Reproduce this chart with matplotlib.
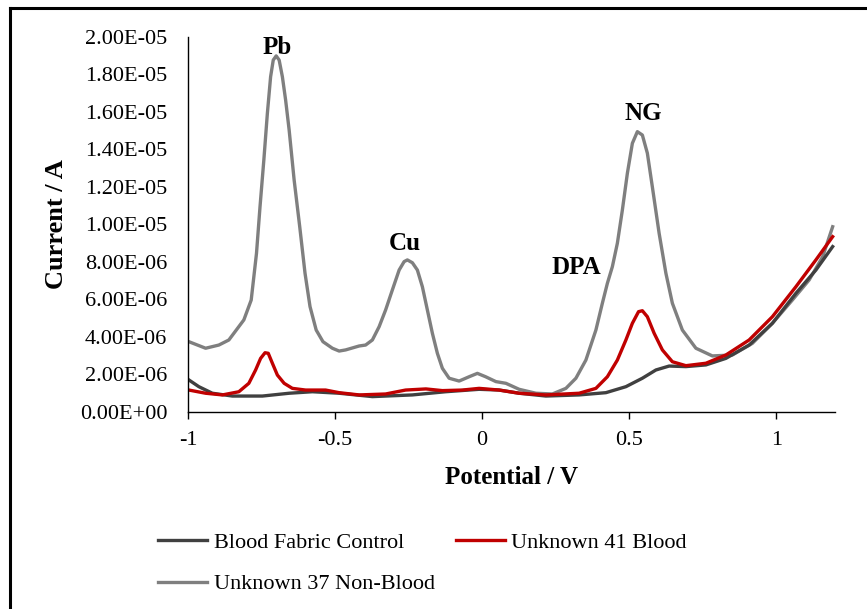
import matplotlib
matplotlib.use("Agg")
import matplotlib.pyplot as plt
from matplotlib.lines import Line2D

plt.rcParams['font.family'] = ['Liberation Serif', 'DejaVu Serif']

# Blood Fabric Control (potential in V, current in uA)
control_v = [-0.997, -0.963, -0.917, -0.849, -0.747, -0.656, -0.577, -0.486, -0.373, -0.237,
             -0.124, -0.01, 0.058, 0.126, 0.217, 0.330, 0.421, 0.489, 0.545, 0.591, 0.636,
             0.693, 0.761, 0.829, 0.908, 0.987, 1.067, 1.135, 1.192]
control_ua = [1.71, 1.35, 1.0, 0.85, 0.85, 1.0, 1.08, 1.0, 0.82, 0.91,
              1.08, 1.21, 1.17, 1.0, 0.85, 0.91, 1.03, 1.35, 1.80, 2.24, 2.45,
              2.42, 2.51, 2.86, 3.57, 4.73, 6.33, 7.57, 8.82]

# Unknown 41 Blood
blood_v = [-0.997, -0.94, -0.883, -0.827, -0.793, -0.770, -0.753, -0.738, -0.727, -0.713,
           -0.696, -0.673, -0.645, -0.60, -0.532, -0.486, -0.418, -0.328, -0.260, -0.191,
           -0.135, -0.067, -0.01, 0.058, 0.126, 0.217, 0.330, 0.387, 0.426, 0.460, 0.489,
           0.511, 0.532, 0.545, 0.562, 0.585, 0.613, 0.647, 0.693, 0.761, 0.829, 0.908,
           0.987, 1.067, 1.135, 1.192]
blood_ua = [1.17, 1.0, 0.91, 1.08, 1.53, 2.24, 2.86, 3.16, 3.13, 2.60,
            1.97, 1.53, 1.26, 1.17, 1.17, 1.03, 0.91, 0.96, 1.17, 1.23,
            1.14, 1.17, 1.26, 1.17, 1.0, 0.91, 1.0, 1.26, 1.88, 2.77, 3.84,
            4.73, 5.35, 5.40, 5.08, 4.20, 3.31, 2.68, 2.47, 2.60, 3.04, 3.84,
            5.08, 6.68, 8.11, 9.35]

# Unknown 37 Non-Blood
nonblood_v = [-0.997, -0.94, -0.895, -0.861, -0.81, -0.785, -0.767, -0.755, -0.742, -0.730,
              -0.719, -0.710, -0.700, -0.690, -0.679, -0.668, -0.656, -0.639, -0.620, -0.602,
              -0.585, -0.564, -0.541, -0.509, -0.486, -0.464, -0.418, -0.396, -0.373, -0.350,
              -0.328, -0.305, -0.282, -0.265, -0.254, -0.237, -0.220, -0.203, -0.186, -0.169,
              -0.152, -0.135, -0.112, -0.078, -0.044, -0.016, 0.012, 0.047, 0.081, 0.126,
              0.183, 0.239, 0.285, 0.319, 0.353, 0.387, 0.409, 0.426, 0.443, 0.460, 0.477,
              0.494, 0.511, 0.528, 0.545, 0.562, 0.579, 0.602, 0.625, 0.647, 0.681, 0.727,
              0.783, 0.851, 0.919, 0.987, 1.055, 1.112, 1.158, 1.192]
nonblood_ua = [3.75, 3.40, 3.57, 3.84, 4.91, 5.97, 8.46, 10.95, 13.44, 15.93,
               17.88, 18.77, 18.99, 18.77, 17.88, 16.64, 15.04, 12.37, 9.88, 7.40,
               5.62, 4.37, 3.75, 3.40, 3.25, 3.31, 3.52, 3.57, 3.84, 4.55,
               5.44, 6.51, 7.57, 8.02, 8.11, 7.96, 7.57, 6.68, 5.44, 4.20,
               3.13, 2.33, 1.80, 1.65, 1.88, 2.06, 1.88, 1.62, 1.53, 1.21,
               1.0, 0.96, 1.26, 1.80, 2.77, 4.37, 5.80, 6.86, 7.75, 9.0, 10.77,
               12.73, 14.33, 14.95, 14.77, 13.8, 12.0, 9.53, 7.40, 5.8, 4.37, 3.40,
               2.99, 3.04, 3.66, 4.73, 5.97, 7.04, 8.28, 9.88]

peak_labels = ['Pb', 'Cu', 'DPA', 'NG']
peak_x = [-0.697, -0.262, 0.32, 0.548]
peak_ua = [19.44, 9.0, 7.68, 15.9]

yticks = [0, 2e-6, 4e-6, 6e-6, 8e-6, 10e-6, 12e-6, 14e-6, 16e-6, 18e-6, 20e-6]
xticks = [-1, -0.5, 0, 0.5, 1]


def amps(values):
    return [v * 1e-6 for v in values]


fig = plt.figure(figsize=(8.67, 6.09), dpi=100)
ax = fig.add_axes([0.2168, 0.3235, 0.7463, 0.6158])

ax.plot(nonblood_v, amps(nonblood_ua), color='#7f7f7f', lw=2.4,
        solid_joinstyle='round', label='Unknown 37 Non-Blood')
ax.plot(control_v, amps(control_ua), color='#404040', lw=2.4,
        solid_joinstyle='round', label='Blood Fabric Control')
ax.plot(blood_v, amps(blood_ua), color='#c00000', lw=2.4,
        solid_joinstyle='round', label='Unknown 41 Blood')

for name, px, py in zip(peak_labels, peak_x, amps(peak_ua)):
    ax.text(px, py, name, fontsize=18, fontweight='bold', ha='center', va='center')

ax.set_xlim(-1, 1.2)
ax.set_ylim(0, 2e-5)
ax.set_xticks(xticks)
ax.set_xticklabels(['-1', '-0.5', '0', '0.5', '1'])
ax.set_yticks(yticks)
ax.set_yticklabels(['%.2E' % v for v in yticks])
ax.tick_params(axis='x', direction='out', length=5, width=1, pad=9, labelsize=16)
ax.tick_params(axis='y', length=0, pad=15, labelsize=16)
for s in ['top', 'right']:
    ax.spines[s].set_visible(False)
ax.spines['left'].set_linewidth(1)
ax.spines['bottom'].set_linewidth(1)

ax.set_xlabel('Potential / V', fontsize=18, fontweight='bold', va='top')
ax.xaxis.set_label_coords(0.5, -0.143)
ax.set_ylabel('Current / A', fontsize=19, fontweight='bold', va='center')
ax.yaxis.set_label_coords(-0.2025, 0.5)

handles, labels = ax.get_legend_handles_labels()
order = [1, 0, 2]
fig.legend([handles[i] for i in order], [labels[i] for i in order],
           loc='upper left', bbox_to_anchor=(0.1822, 0.126), ncol=2, frameon=False,
           fontsize=16, handlelength=2.2, handletextpad=0.3, columnspacing=0.95,
           labelspacing=0.95, borderpad=0, borderaxespad=0)

# chart-area border on the top and left edges
fig.add_artist(Line2D([10 / 867, 1], [1 - 7.5 / 609] * 2, color='black', lw=2.2))
fig.add_artist(Line2D([10 / 867] * 2, [0, 1 - 7.5 / 609], color='black', lw=2.2))

fig.savefig('out.png', dpi=100)
